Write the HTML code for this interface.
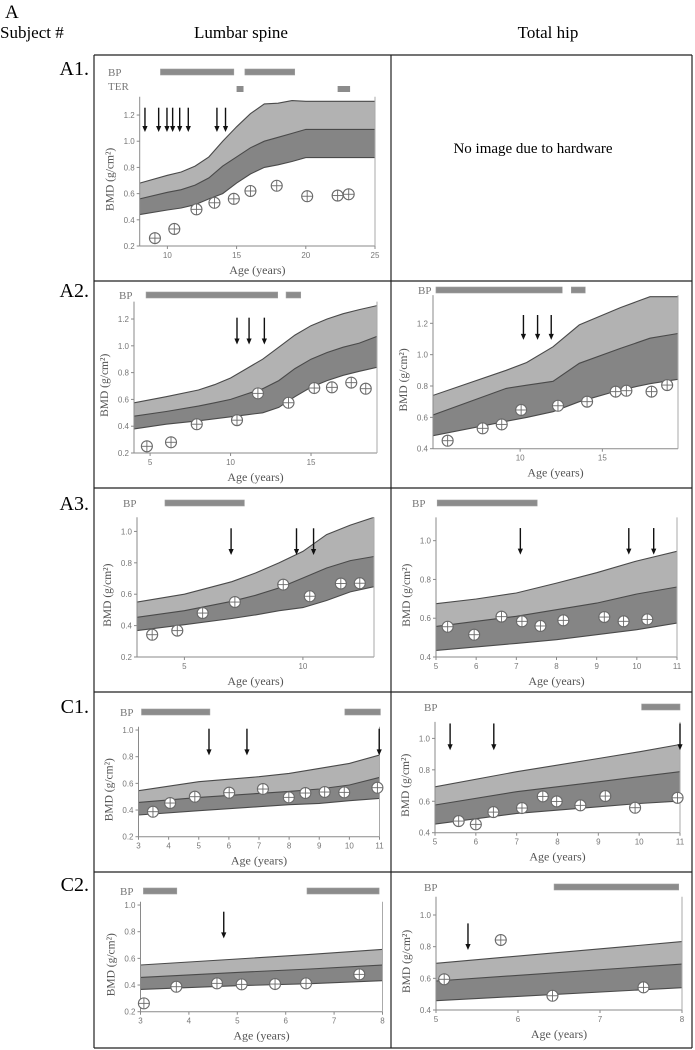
<!DOCTYPE html>
<html><head><meta charset="utf-8"><style>
html,body{margin:0;padding:0;background:#fff;}
svg{display:block;}
text{font-family:"Liberation Serif",serif;}
.tk{font-family:"Liberation Sans",sans-serif;font-size:8px;fill:#777;}
</style></head><body>
<svg id="fig" width="695" height="1050" viewBox="0 0 695 1050" xmlns="http://www.w3.org/2000/svg">
<rect width="695" height="1050" fill="#fff"/>
<text x="5" y="18" font-size="19">A</text>
<text x="0" y="38" font-size="17">Subject #</text>
<text x="241" y="38" font-size="17" text-anchor="middle">Lumbar spine</text>
<text x="548" y="38" font-size="17" text-anchor="middle">Total hip</text>
<text x="89" y="75" font-size="20" text-anchor="end">A1.</text>
<text x="89" y="297" font-size="20" text-anchor="end">A2.</text>
<text x="89" y="510" font-size="20" text-anchor="end">A3.</text>
<text x="89" y="713" font-size="20" text-anchor="end">C1.</text>
<text x="89" y="891" font-size="20" text-anchor="end">C2.</text>
<g stroke="#222" stroke-width="1.2">
<line x1="94" y1="55" x2="94" y2="1048"/><line x1="391" y1="55" x2="391" y2="1048"/><line x1="692" y1="55" x2="692" y2="1048"/>
<line x1="94" y1="55" x2="692" y2="55"/><line x1="94" y1="281" x2="692" y2="281"/><line x1="94" y1="488" x2="692" y2="488"/>
<line x1="94" y1="692" x2="692" y2="692"/><line x1="94" y1="872" x2="692" y2="872"/><line x1="94" y1="1048" x2="692" y2="1048"/>
</g>
<text x="533" y="153" font-size="15" text-anchor="middle">No image  due to hardware</text>
</svg>
<script>
// ---- A1 lumbar ----
const a1BandAges=[8,10,11,12,13,14,15,16,17,18,19,20,25];
const a1Upper=[0.68,0.74,0.765,0.81,0.88,1.0,1.11,1.21,1.285,1.29,1.31,1.305,1.305];
const a1Mid=[0.56,0.61,0.63,0.665,0.72,0.81,0.88,0.95,1.0,1.03,1.06,1.09,1.09];
const a1Lower=[0.44,0.475,0.49,0.515,0.56,0.6,0.68,0.75,0.8,0.82,0.845,0.875,0.875];
const a1PtAges=[9.1,10.5,12.1,13.4,14.8,16,17.9,20.1,22.3,23.1];
const a1PtBmd=[0.26,0.33,0.48,0.53,0.56,0.62,0.66,0.58,0.585,0.595];
const a1Arrows=[8.38,9.37,9.97,10.38,10.89,11.51,13.58,14.2];
const a1BpStart=[9.5,15.6], a1BpEnd=[14.8,19.2];
const a1TerStart=[15,22.3], a1TerEnd=[15.5,23.2];
const a1XTicks=[10,15,20,25], a1YTicks=[0.2,0.4,0.6,0.8,1.0,1.2];
// ---- A2 lumbar ----
const a2lBandAges=[4,6,8,9,10,11,12,13,14,15,16,17,18,19.1];
const a2lUpper=[0.575,0.62,0.67,0.71,0.76,0.83,0.9,0.99,1.08,1.15,1.2,1.24,1.27,1.3];
const a2lMid=[0.475,0.51,0.55,0.575,0.6,0.64,0.68,0.74,0.83,0.9,0.95,0.99,1.02,1.07];
const a2lLower=[0.38,0.415,0.44,0.455,0.47,0.485,0.5,0.54,0.62,0.69,0.74,0.78,0.81,0.84];
const a2lPtAges=[4.8,6.3,7.9,10.4,11.7,13.6,15.2,16.3,17.5,18.4];
const a2lPtBmd=[0.25,0.28,0.415,0.445,0.645,0.575,0.685,0.69,0.725,0.68];
const a2lArrows=[10.4,11.15,12.1];
const a2lBpStart=[4.75,13.45], a2lBpEnd=[12.93,14.36];
const a2lXTicks=[5,10,15], a2lYTicks=[0.2,0.4,0.6,0.8,1.0,1.2];
// ---- A2 hip ----
const a2rBandAges=[4.7,9.15,10.4,12,13.6,16.1,17.9,19.6];
const a2rUpper=[0.74,0.9,0.95,1.05,1.19,1.3,1.37,1.37];
const a2rMid=[0.615,0.785,0.805,0.83,0.945,1.04,1.105,1.135];
const a2rLower=[0.483,0.575,0.6,0.636,0.7,0.775,0.815,0.843];
const a2rPtAges=[5.59,7.72,8.88,10.06,12.3,14.07,15.81,16.46,17.99,18.94];
const a2rPtBmd=[0.451,0.53,0.555,0.647,0.674,0.7,0.764,0.77,0.764,0.806];
const a2rArrows=[10.2,11.06,11.89];
const a2rBpStart=[4.88,13.11], a2rBpEnd=[12.56,13.96];
const a2rXTicks=[10,15], a2rYTicks=[0.4,0.6,0.8,1.0,1.2];
// ---- A3 lumbar ----
const a3lBandAges=[3,5,7,8,9,10,11,12,13];
const a3lUpper=[0.55,0.6,0.68,0.735,0.8,0.873,0.98,1.04,1.09];
const a3lMid=[0.453,0.495,0.555,0.593,0.64,0.703,0.767,0.814,0.84];
const a3lLower=[0.368,0.406,0.445,0.468,0.495,0.515,0.56,0.615,0.648];
const a3lPtAges=[3.64,4.7,5.77,7.13,9.17,10.29,11.6,12.4];
const a3lPtBmd=[0.342,0.368,0.48,0.55,0.661,0.587,0.668,0.67];
const a3lArrows=[6.97,9.73,10.45];
const a3lBpStart=[4.18], a3lBpEnd=[7.53];
const a3lXTicks=[5,10], a3lYTicks=[0.2,0.4,0.6,0.8,1.0];
// ---- A3 hip ----
const a3rBandAges=[5,6,7,8,9,10,11];
const a3rUpper=[0.675,0.699,0.73,0.781,0.835,0.895,0.945];
const a3rMid=[0.558,0.584,0.61,0.644,0.678,0.725,0.761];
const a3rLower=[0.434,0.452,0.47,0.489,0.515,0.541,0.575];
const a3rPtAges=[5.29,5.95,6.63,7.14,7.6,8.17,9.19,9.67,10.26];
const a3rPtBmd=[0.556,0.515,0.608,0.584,0.56,0.589,0.606,0.584,0.594];
const a3rArrows=[7.1,9.8,10.42];
const a3rBpStart=[5.03], a3rBpEnd=[7.52];
const a3rXTicks=[5,6,7,8,9,10,11], a3rYTicks=[0.4,0.6,0.8,1.0];
// ---- C1 lumbar ----
const c1lBandAges=[3,5,7,8,9,10,11];
const c1lUpper=[0.545,0.6125,0.65,0.675,0.7125,0.75,0.8125];
const c1lMid=[0.4575,0.495,0.525,0.54,0.5575,0.5875,0.645];
const c1lLower=[0.3625,0.395,0.425,0.44,0.45,0.47,0.4875];
const c1lPtAges=[3.48,4.05,4.87,6.01,7.13,7.99,8.54,9.18,9.83,10.93];
const c1lPtBmd=[0.3875,0.4525,0.5,0.53,0.5575,0.495,0.5275,0.535,0.5325,0.5675];
const c1lArrows=[5.34,6.6,10.99];
const c1lBpStart=[3.1,9.85], c1lBpEnd=[5.37,11.03];
const c1lXTicks=[3,4,5,6,7,8,9,10,11], c1lYTicks=[0.2,0.4,0.6,0.8,1.0];
// ---- C1 hip ----
const c1rBandAges=[5,7,9,10,11];
const c1rUpper=[0.692,0.788,0.872,0.915,0.961];
const c1rMid=[0.576,0.661,0.724,0.756,0.788];
const c1rLower=[0.455,0.523,0.565,0.586,0.601];
const c1rPtAges=[5.58,6.0,6.43,7.13,7.64,7.98,8.56,9.17,9.9,10.94];
const c1rPtBmd=[0.474,0.453,0.531,0.557,0.631,0.599,0.574,0.633,0.559,0.622];
const c1rArrows=[5.37,6.44,11.0];
const c1rBpStart=[10.06], c1rBpEnd=[11.0];
const c1rXTicks=[5,6,7,8,9,10,11], c1rYTicks=[0.4,0.6,0.8,1.0];
// ---- C2 lumbar ----
const c2lBandAges=[3,5,6.5,8];
const c2lUpper=[0.55,0.595,0.63,0.6675];
const c2lMid=[0.4575,0.495,0.52,0.55];
const c2lLower=[0.3675,0.395,0.41,0.4325];
const c2lPtAges=[3.07,3.74,4.58,5.09,5.78,6.42,7.52];
const c2lPtBmd=[0.2625,0.3875,0.4125,0.405,0.4075,0.4125,0.48];
const c2lArrows=[4.72];
const c2lBpStart=[3.06,6.44], c2lBpEnd=[3.75,7.93];
const c2lXTicks=[3,4,5,6,7,8], c2lYTicks=[0.2,0.4,0.6,0.8,1.0];
// ---- C2 hip ----
const c2rBandAges=[5,8];
const c2rUpper=[0.695,0.832];
const c2rMid=[0.583,0.69];
const c2rLower=[0.459,0.541];
const c2rPtAges=[5.1,5.79,6.42,7.53];
const c2rPtBmd=[0.594,0.842,0.49,0.543];
const c2rArrows=[5.39];
const c2rBpStart=[6.44], c2rBpEnd=[7.96];
const c2rXTicks=[5,6,7,8], c2rYTicks=[0.4,0.6,0.8,1.0];

const NS="http://www.w3.org/2000/svg";
const svg=document.getElementById('fig');
function mk(tag,attrs,parent){const e=document.createElementNS(NS,tag);for(const k in attrs)e.setAttribute(k,attrs[k]);(parent||svg).appendChild(e);return e;}

const panels=[
 {id:'a1-spine',L:{xl:139.7,xr:375,amin:8,amax:25,vmin:0.2,vmax:1.34,yb:246,yt:96.7,bpY:72,terY:89,labX:108,arrowTop:1.256,arrowBot:1.07},
  ages:a1BandAges,up:a1Upper,mid:a1Mid,low:a1Lower,pa:a1PtAges,pb:a1PtBmd,ar:a1Arrows,bs:a1BpStart,be:a1BpEnd,ts:a1TerStart,te:a1TerEnd,xt:a1XTicks,yt:a1YTicks},
 {id:'a2-spine',L:{xl:134,xr:377,amin:4,amax:19.1,vmin:0.2,vmax:1.33,yb:453,yt:301.6,bpY:295,labX:119,arrowTop:1.21,arrowBot:1.01},
  ages:a2lBandAges,up:a2lUpper,mid:a2lMid,low:a2lLower,pa:a2lPtAges,pb:a2lPtBmd,ar:a2lArrows,bs:a2lBpStart,be:a2lBpEnd,xt:a2lXTicks,yt:a2lYTicks},
 {id:'a2-hip',L:{xl:433,xr:678,amin:4.7,amax:19.6,vmin:0.4,vmax:1.38,yb:448.7,yt:295.1,bpY:290,labX:418,arrowTop:1.253,arrowBot:1.094},
  ages:a2rBandAges,up:a2rUpper,mid:a2rMid,low:a2rLower,pa:a2rPtAges,pb:a2rPtBmd,ar:a2rArrows,bs:a2rBpStart,be:a2rBpEnd,xt:a2rXTicks,yt:a2rYTicks},
 {id:'a3-spine',L:{xl:137,xr:374,amin:3,amax:13,vmin:0.2,vmax:1.09,yb:657,yt:517.3,bpY:503,labX:123,arrowTop:1.02,arrowBot:0.85},
  ages:a3lBandAges,up:a3lUpper,mid:a3lMid,low:a3lLower,pa:a3lPtAges,pb:a3lPtBmd,ar:a3lArrows,bs:a3lBpStart,be:a3lBpEnd,xt:a3lXTicks,yt:a3lYTicks},
 {id:'a3-hip',L:{xl:436,xr:677,amin:5,amax:11,vmin:0.4,vmax:1.12,yb:657,yt:517.4,bpY:503,labX:412,arrowTop:1.065,arrowBot:0.928},
  ages:a3rBandAges,up:a3rUpper,mid:a3rMid,low:a3rLower,pa:a3rPtAges,pb:a3rPtBmd,ar:a3rArrows,bs:a3rBpStart,be:a3rBpEnd,xt:a3rXTicks,yt:a3rYTicks},
 {id:'c1-spine',L:{xl:138.5,xr:379.5,amin:3,amax:11,vmin:0.2,vmax:1.025,yb:836.7,yt:726.7,bpY:712,labX:120,arrowTop:1.01,arrowBot:0.81},
  ages:c1lBandAges,up:c1lUpper,mid:c1lMid,low:c1lLower,pa:c1lPtAges,pb:c1lPtBmd,ar:c1lArrows,bs:c1lBpStart,be:c1lBpEnd,xt:c1lXTicks,yt:c1lYTicks},
 {id:'c1-hip',L:{xl:435,xr:680,amin:5,amax:11,vmin:0.4,vmax:1.105,yb:832.7,yt:721.9,bpY:707,labX:424,arrowTop:1.095,arrowBot:0.925},
  ages:c1rBandAges,up:c1rUpper,mid:c1rMid,low:c1rLower,pa:c1rPtAges,pb:c1rPtBmd,ar:c1rArrows,bs:c1rBpStart,be:c1rBpEnd,xt:c1rXTicks,yt:c1rYTicks},
 {id:'c2-spine',L:{xl:140.5,xr:382.5,amin:3,amax:8,vmin:0.2,vmax:1.025,yb:1011.7,yt:901.7,bpY:891,labX:120,arrowTop:0.95,arrowBot:0.75},
  ages:c2lBandAges,up:c2lUpper,mid:c2lMid,low:c2lLower,pa:c2lPtAges,pb:c2lPtBmd,ar:c2lArrows,bs:c2lBpStart,be:c2lBpEnd,xt:c2lXTicks,yt:c2lYTicks},
 {id:'c2-hip',L:{xl:436,xr:682,amin:5,amax:8,vmin:0.4,vmax:1.115,yb:1010,yt:896.8,bpY:887,labX:424,arrowTop:0.947,arrowBot:0.779},
  ages:c2rBandAges,up:c2rUpper,mid:c2rMid,low:c2rLower,pa:c2rPtAges,pb:c2rPtBmd,ar:c2rArrows,bs:c2rBpStart,be:c2rBpEnd,xt:c2rXTicks,yt:c2rYTicks}
];

const defs=mk('defs',{});
panels.forEach(p=>{
 const L=p.L;
 const X=a=>L.xl+(a-L.amin)/(L.amax-L.amin)*(L.xr-L.xl);
 const Y=v=>L.yb-(v-L.vmin)/(L.vmax-L.vmin)*(L.yb-L.yt);
 const g=mk('g',{});
 
 
 const cp=mk('clipPath',{id:'clip-'+p.id},defs);
 mk('rect',{x:L.xl,y:L.yt,width:L.xr-L.xl,height:L.yb-L.yt},cp);
 const bands=mk('g',{'clip-path':'url(#clip-'+p.id+')'},g);
 const pts=(arr)=>p.ages.map((a,i)=>X(a).toFixed(1)+','+Y(arr[i]).toFixed(1));
 const light=mk('polygon',{points:pts(p.up).concat(pts(p.mid).reverse()).join(' '),fill:'#b2b2b2'},bands);
 
 
 const dark=mk('polygon',{points:pts(p.mid).concat(pts(p.low).reverse()).join(' '),fill:'#858585'},bands);
 
 
 [['upper-line',p.up],['mean-line',p.mid],['lower-line',p.low]].forEach(([n,arr])=>{
  const l=mk('polyline',{points:pts(arr).join(' '),fill:'none',stroke:'#4a4a4a','stroke-width':1.1},bands);
  
  
 });
 const ax=mk('g',{stroke:'#8a8a8a','stroke-width':1,fill:'none'},g);
 
 
 mk('line',{x1:L.xl,y1:L.yt,x2:L.xl,y2:L.yb},ax);
 mk('line',{x1:L.xl,y1:L.yb,x2:L.xr,y2:L.yb},ax);
 mk('line',{x1:L.xr,y1:L.yt,x2:L.xr,y2:L.yb,stroke:'#aaa'},ax);
 p.yt.forEach(v=>{
  mk('line',{x1:L.xl-3,y1:Y(v),x2:L.xl,y2:Y(v)},ax);
  const t=mk('text',{x:L.xl-5,y:Y(v)+3,'text-anchor':'end',class:'tk'},g);
  t.textContent=v.toFixed(1);
  
  
 });
 p.xt.forEach(a=>{
  mk('line',{x1:X(a),y1:L.yb,x2:X(a),y2:L.yb+3},ax);
  const t=mk('text',{x:X(a),y:L.yb+12,'text-anchor':'middle',class:'tk'},g);
  t.textContent=a;
  
  
 });
 const xt=mk('text',{x:(L.xl+L.xr)/2,y:L.yb+28,'text-anchor':'middle','font-size':12,fill:'#555'},g);
 xt.textContent='Age (years)';
 
 
 const cy=(L.yb+L.yt)/2+8;
 const yt=mk('text',{x:L.xl-26,y:cy,'text-anchor':'middle','font-size':11.5,fill:'#555',transform:'rotate(-90 '+(L.xl-26)+' '+cy+')'},g);
 yt.textContent='BMD (g/cm\u00B2)';
 
 
 const bl=mk('text',{x:L.labX,y:L.bpY+4,'font-size':11,fill:'#777'},g);
 bl.textContent='BP';
 
 
 p.bs.forEach((s,i)=>{
  const r=mk('rect',{x:X(s),y:L.bpY-3,width:X(p.be[i])-X(s),height:6,fill:'#8c8c8c',stroke:'#a0a0a0','stroke-width':0.6},g);
  
  
 });
 if(p.ts){
  const tl=mk('text',{x:L.labX,y:L.terY+1,'font-size':11,fill:'#777'},g);
  tl.textContent='TER';
  
  
  p.ts.forEach((s,i)=>{
   const r=mk('rect',{x:X(s),y:L.terY-3,width:X(p.te[i])-X(s),height:6,fill:'#8c8c8c'},g);
   
   
  });
 }
 p.ar.forEach(a=>{
  const ag=mk('g',{},g);
  
  
  const x=X(a),y1=Y(L.arrowTop),y2=Y(L.arrowBot);
  mk('line',{x1:x,y1:y1,x2:x,y2:y2-4,stroke:'#111','stroke-width':1.4},ag);
  mk('polygon',{points:(x-2.6)+','+(y2-6)+' '+(x+2.6)+','+(y2-6)+' '+x+','+y2,fill:'#111'},ag);
 });
 p.pa.forEach((a,i)=>{
  const cg=mk('g',{},g);
  
  
  const x=X(a),y=Y(p.pb[i]);
  mk('circle',{cx:x,cy:y,r:5.5,fill:'#fff',stroke:'#6a6a6a','stroke-width':1.1},cg);
  mk('line',{x1:x-5.5,y1:y,x2:x+5.5,y2:y,stroke:'#6a6a6a','stroke-width':0.9},cg);
  mk('line',{x1:x,y1:y-5.5,x2:x,y2:y+5.5,stroke:'#6a6a6a','stroke-width':0.9},cg);
 });
});
</script>
</body></html>
